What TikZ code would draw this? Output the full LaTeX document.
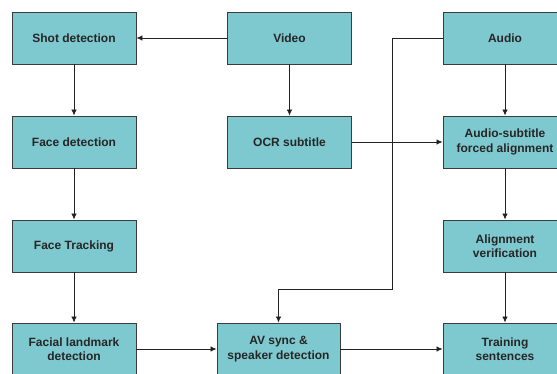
\documentclass[tikz,border=0pt]{standalone}
\usepackage{fontspec}
\setmainfont{Liberation Sans}
\usetikzlibrary{arrows.meta}
\definecolor{boxfill}{HTML}{7EC9CF}
\definecolor{boxline}{HTML}{3C3C3C}
\definecolor{wire}{HTML}{222222}
\tikzset{
  stage/.style={rectangle, draw=boxline, line width=0.9pt, fill=boxfill,
    minimum width=124pt, minimum height=52pt, inner sep=2pt,
    align=center, font=\fontsize{12}{14.5}\selectfont\bfseries, text=black!85},
  flow/.style={draw=wire, line width=0.8pt, -{Latex[length=6pt,width=5.5pt]}}
}
\begin{document}
\begin{tikzpicture}[x=1pt,y=-1pt]
\useasboundingbox (0,0) rectangle (557,374);
\fill[white] (0,0) rectangle (557,374);
\clip (0,0) rectangle (557,374);
% left column: video processing chain
\node[stage] (shot)  at (74,38)  {Shot detection};
\node[stage] (face)  at (74,142) {Face detection};
\node[stage] (track) at (74,246) {Face Tracking};
\node[stage] (land)  at (74,349) {Facial landmark\\detection};
% middle column
\node[stage] (video) at (289.5,38)  {Video};
\node[stage] (ocr)   at (289.5,142) {OCR subtitle};
\node[stage, minimum width=123pt] (avs) at (278.5,349) {AV sync \&\\speaker detection};
% right column: audio chain
\node[stage] (audio) at (505,38)  {Audio};
\node[stage] (force) at (505,142) {Audio-subtitle\\forced alignment};
\node[stage] (verif) at (505,246) {Alignment\\verification};
\node[stage] (train) at (505,349) {Training\\sentences};
% bend points of the audio feed into AV sync
\coordinate (bend) at (392,289);
% connectors
\draw[flow] (video) -- (shot);
\draw[flow] (shot) -- (face);
\draw[flow] (face) -- (track);
\draw[flow] (track) -- (land);
\draw[flow] (video) -- (ocr);
\draw[flow] (ocr) -- (force);
\draw[flow] (audio) -- (force);
\draw[flow] (force) -- (verif);
\draw[flow] (verif) -- (train);
\draw[flow] (land) -- (avs);
\draw[flow] (avs) -- (train);
\draw[flow] (audio.west) -| (bend) -| (avs.north);
\end{tikzpicture}
\end{document}
